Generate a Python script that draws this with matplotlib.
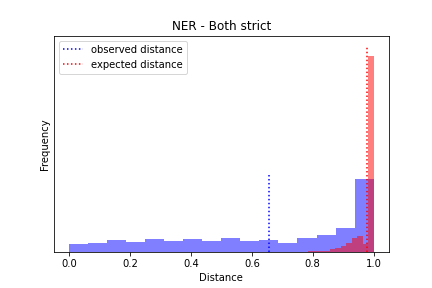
import numpy as np
import matplotlib
matplotlib.use("Agg")
import matplotlib.pyplot as plt

# observed distances: 16 equal bins over [0, 1]
obs_edges = np.linspace(0.0, 1.0, 17)
obs_counts = [8, 9, 12, 10, 13, 11, 13, 11, 14, 11, 12, 9, 14, 17, 24, 74]

# expected distances: 12 equal bins over [0.784, 1.0]
exp_edges = np.linspace(0.784, 1.0, 13)
exp_counts = [1.5, 1.5, 1.5, 1.5, 3, 4.5, 6.5, 9, 14, 16.5, 8, 197.6]

observed_distance = 0.655
expected_distance = 0.979

fig, ax = plt.subplots(figsize=(6, 4), dpi=72)
fig.subplots_adjust(left=0.125, right=0.9, bottom=0.124, top=0.876)

ax.hist(obs_edges[:-1], bins=obs_edges, weights=obs_counts, color="blue", alpha=0.5)
ax.hist(exp_edges[:-1], bins=exp_edges, weights=exp_counts, color="red", alpha=0.5)

ax.vlines(observed_distance, 0, max(obs_counts) * 1.05, colors="blue",
          linestyles=":", label="observed distance")
ax.vlines(expected_distance, 0, max(exp_counts) * 1.05, colors="red",
          linestyles=":", label="expected distance")

ax.set_yticks([])
ax.set_xlabel("Distance")
ax.set_ylabel("Frequency")
ax.set_title("NER - Both strict")
ax.legend(loc="upper left")

plt.savefig("out.png")
